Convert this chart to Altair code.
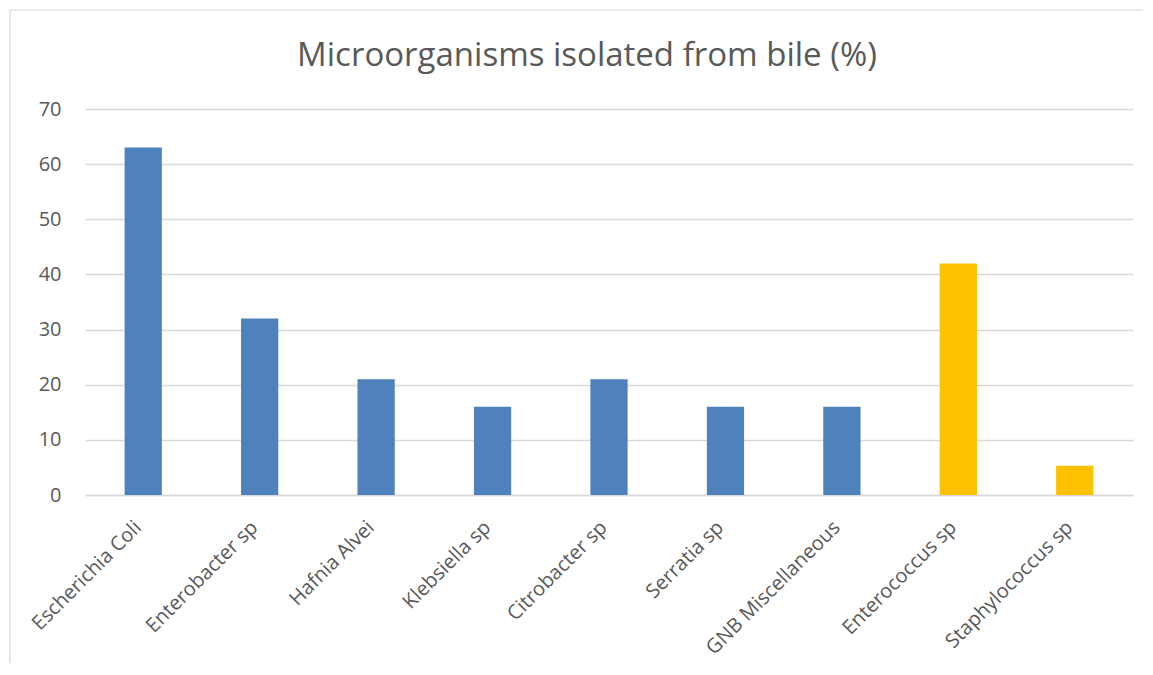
import altair as alt
import pandas as pd

organisms = ["Escherichia Coli", "Enterobacter sp", "Hafnia Alvei", "Klebsiella sp",
             "Citrobacter sp", "Serratia sp", "GNB Miscellaneous", "Enterococcus sp",
             "Staphylococcus sp"]
percent = [63, 32, 21, 16, 21, 16, 16, 42, 5.3]
group = ["GNB", "GNB", "GNB", "GNB", "GNB", "GNB", "GNB", "GPC", "GPC"]
y_ticks = [0, 10, 20, 30, 40, 50, 60, 70]
title_text = "Microorganisms isolated from bile (%)"

df = pd.DataFrame({"organism": organisms, "percent": percent, "group": group})

W, H = 1048, 386
FONT = "Open Sans"
TXT = "#595959"

bars = alt.Chart(df).mark_bar().encode(
    x=alt.X("organism:N", sort=organisms,
            scale=alt.Scale(paddingInner=0.68, paddingOuter=0.34),
            axis=alt.Axis(title=None, labelAngle=-45, labelAlign="right", labelBaseline="middle",
                          labelFontSize=20, labelColor=TXT,
                          labelFont=FONT, ticks=False, domainColor="#d9d9d9", domainWidth=1.5,
                          labelPadding=29, labelOffset=-5, labelLimit=400)),
    y=alt.Y("percent:Q", scale=alt.Scale(domain=[0, 70], nice=False),
            axis=alt.Axis(title=None, values=y_ticks, labelFontSize=20, labelColor=TXT,
                          labelFont=FONT, ticks=False, domain=False, gridColor="#d9d9d9",
                          gridWidth=1.5, labelPadding=24)),
    color=alt.Color("group:N", scale=alt.Scale(domain=["GNB", "GPC"], range=["#4f81bd", "#ffc000"]),
                    legend=None),
)

border = alt.Chart(pd.DataFrame({"a": [0]})).mark_rect(fill=None, stroke="#d9d9d9", strokeWidth=1.2).encode(
    x=alt.value(-75), x2=alt.value(W + 90), y=alt.value(-99), y2=alt.value(H + 250)
)

title = alt.Chart(pd.DataFrame({"t": [title_text]})).mark_text(
    fontSize=33, font=FONT, color=TXT, align="center", baseline="middle"
).encode(text="t:N", x=alt.value(W / 2 - 22), y=alt.value(-53))

chart = alt.layer(border, bars, title).properties(
    width=W, height=H,
    autosize=alt.AutoSizeParams(type="none"),
    padding={"left": 77, "top": 101, "right": 10, "bottom": 168},
).configure_view(stroke=None)

chart.save("out.html", embed_options={"renderer": "svg", "actions": False})
